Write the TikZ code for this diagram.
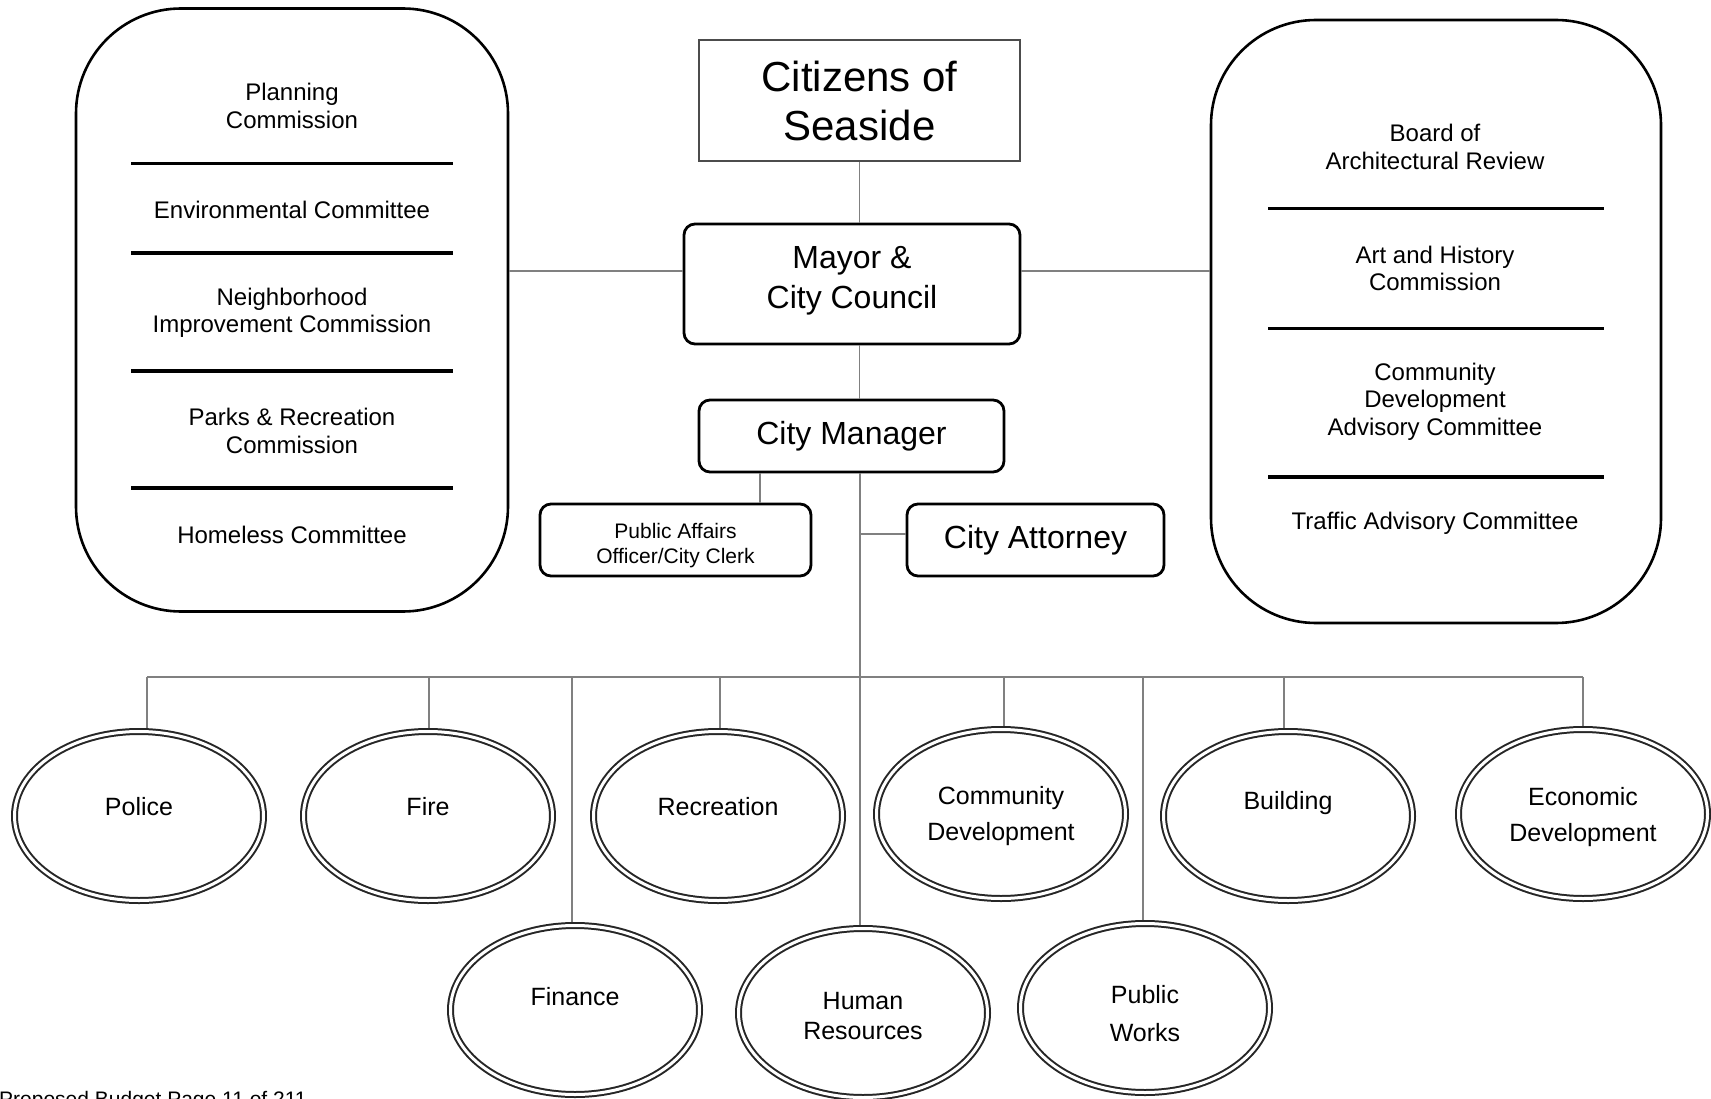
\documentclass[tikz,border=0pt]{standalone}
\usepackage{fontspec}
\setmainfont{Liberation Sans}
\usetikzlibrary{shapes.geometric}
\tikzset{link/.style={draw=gray, line width=1.8pt},
         divider/.style={line width=3.6pt},
         panel/.style={draw, line width=2.6pt, rounded corners=105pt,
                       minimum width=#1, minimum height=603pt},
         office/.style={draw, line width=2.8pt, rounded corners=11pt,
                        align=center, inner sep=0pt},
         member/.style={align=center, font=\fontsize{24}{27.5}\selectfont},
         dept/.style={ellipse, draw=black!85, double, double distance=3pt,
                      line width=2pt, minimum width=249pt, minimum height=169pt,
                      inner sep=0pt, outer sep=3.5pt}}

\begin{document}
\begin{tikzpicture}[x=1pt, y=-1pt]
  \useasboundingbox (0,0) rectangle (1711,1099);

  \node[draw=black!70, line width=2.4pt, minimum width=321pt, minimum height=121pt,
        align=center, inner sep=0pt, font=\fontsize{42}{49}\selectfont]
    (citizens) at (859.5,100.5) {Citizens of\\Seaside};
  \node[office, minimum width=336pt, minimum height=120pt, text depth=14pt,
        font=\fontsize{32}{40}\selectfont] (mayor) at (852,284) {Mayor \&\\City Council};
  \node[office, minimum width=305pt, minimum height=72pt,
        font=\fontsize{32}{40}\selectfont] (manager) at (851.5,436) {City Manager};
  \node[office, minimum width=271pt, minimum height=72pt, text height=52pt,
        font=\fontsize{21}{25}\selectfont] (clerk) at (675.5,540) {Public Affairs\\Officer/City Clerk};
  \node[office, minimum width=257pt, minimum height=72pt,
        font=\fontsize{32}{40}\selectfont] (attorney) at (1035.5,540) {City Attorney};

  % commissions and committees
  \node[panel=432pt] (lbox) at (292,310) {};
  \node[member] (plan) at (292,106) {Planning\\Commission};
  \node[member] (env) at (292,209.5) {Environmental Committee};
  \node[member] (nbhd) at (292,313) {Neighborhood\\Improvement Commission};
  \node[member] (parks) at (292,431) {Parks \& Recreation\\Commission};
  \node[member] (homeless) at (292,535) {Homeless Committee};
  \foreach \y in {163.7,253,371,487.8}
    \draw[divider] (131,\y) -- (453,\y);

  \node[panel=450pt] (rbox) at (1436,321.5) {};
  \node[member] (board) at (1435,147) {Board of\\Architectural Review};
  \node[member] (art) at (1435,268.5) {Art and History\\Commission};
  \node[member] (cdac) at (1435,401.5) {Community\\Development\\Advisory Committee};
  \node[member] (traffic) at (1435,523) {Traffic Advisory Committee};
  \foreach \y in {208.4,328.5,476.9}
    \draw[divider] (1268,\y) -- (1604,\y);

  % reporting lines
  \coordinate (bus) at (860,677);
  \draw[link] (citizens.south) -- (citizens.south |- mayor.north);
  \draw[link] (citizens.south |- mayor.south) -- (citizens.south |- manager.north);
  \draw[link] ([yshift=13pt]mayor.west) -- ([yshift=13pt]mayor.west -| lbox.east);
  \draw[link] ([yshift=13pt]mayor.east) -- ([yshift=13pt]mayor.east -| rbox.west);
  \draw[link] ([xshift=84.5pt]clerk.north) -- ([xshift=84.5pt]clerk.north |- manager.south);
  \draw[link] ([yshift=6pt]attorney.west) -- ([yshift=6pt]attorney.west -| bus);

  % departments
  \foreach \n/\x/\y/\dx/\ly/\txt in {police/139/816/8/807/Police,
      fire/428/816/1/807/Fire,
      recreation/718/816/2/807/Recreation,
      commdev/1001/814/3/816/{Community\\[6pt]Development},
      building/1288/816/-4/803/Building,
      econ/1583/814/0/817/{Economic\\[6pt]Development},
      finance/575/1010/-3/997/Finance,
      hr/863/1013/-3/1016/{Human\\Resources},
      works/1145/1008/-2/1014/{Public\\[8pt]Works}}
  {
    \node[dept] (\n) at (\x,\y) {};
    \node[align=center, font=\fontsize{25}{30}\selectfont] (\n-t) at (\x,\ly) {\txt};
    \draw[link] ([xshift=\dx pt]\n.north) -- ([xshift=\dx pt]\n.north |- bus);
  }
  \draw[link] (bus |- manager.south) -- (bus |- hr.north);
  \draw[link] ([xshift=8pt]police.north |- bus) -- (econ.north |- bus);

  \node[anchor=base west, inner sep=0pt, font=\fontsize{21}{25}\selectfont]
    (footer) at (-1,1106) {Proposed Budget Page 11 of 211};
\end{tikzpicture}
\end{document}
